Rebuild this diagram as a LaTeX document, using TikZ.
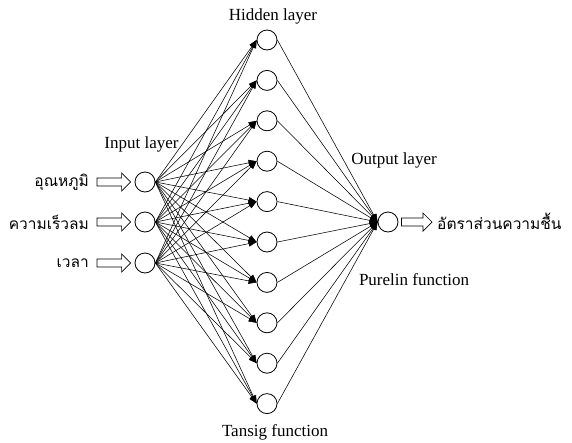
\documentclass[tikz,border=0pt]{standalone}
\usepackage{fontspec}
\setmainfont{Liberation Serif}
\newfontfamily\thaifont[Script=Thai]{Loma}
\usetikzlibrary{arrows.meta,calc}
\newcommand\blockarrow[2]{%
  \draw[blockarr] ($(#1)+(0,-4)$) -- ($(#2)+(-9,-4)$) -- ($(#2)+(-9,-9)$) -- (#2)
    -- ($(#2)+(-9,9)$) -- ($(#2)+(-9,4)$) -- ($(#1)+(0,4)$) -- cycle;}
\begin{document}
\begin{tikzpicture}[x=1pt,y=-1pt,
  neuron/.style={circle,draw,minimum size=20pt,inner sep=0pt,line width=0.8pt},
  conn/.style={line width=0.55pt,-{Triangle[length=8pt,width=6pt]}},
  blockarr/.style={line width=0.7pt,fill=white,line join=miter},
  lbl/.style={font=\fontsize{17}{19}\selectfont,inner sep=0pt},
  thai/.style={font=\thaifont\fontsize{15.5}{18}\selectfont,inner sep=0pt}]
\useasboundingbox (0,0) rectangle (572,442);
% nodes
\foreach \i/\y in {1/182,2/222,3/263} \node[neuron] (i\i) at (145,\y) {};
\foreach \j in {1,...,10} \node[neuron] (h\j) at (267,{40+40.4*(\j-1)}) {};
\node[neuron] (o) at (388,222) {};
% connections
\foreach \i in {1,2,3} \foreach \j in {1,...,10} \draw[conn] (i\i.east) -- (h\j.west);
\foreach \j in {1,...,10} \draw[conn] (h\j.east) -- (o.west);
% input labels
\node[thai,anchor=east] (l1) at (89,182) {อุณหภูมิ};
\node[thai,anchor=east] (l2) at (89,222) {ความเร็วลม};
\node[thai,anchor=east] (l3) at (89,263) {เวลา};
\coordinate (a1s) at (97,182); \coordinate (a1e) at ($(i1.west)+(-4,0)$);
\coordinate (a2s) at (97,222); \coordinate (a2e) at ($(i2.west)+(-4,0)$);
\coordinate (a3s) at (97,263); \coordinate (a3e) at ($(i3.west)+(-4,0)$);
\blockarrow{a1s}{a1e}
\blockarrow{a2s}{a2e}
\blockarrow{a3s}{a3e}
% output
\coordinate (aos) at ($(o.east)+(3,0)$); \coordinate (aoe) at (432,222);
\blockarrow{aos}{aoe}
\node[thai,anchor=west] (lo) at (437,221) {อัตราส่วนความชื้น};
% titles
\node[lbl] (th) at (273,16) {Hidden layer};
\node[lbl] (ti) at (141.5,144) {Input layer};
\node[lbl] (to) at (394,160) {Output layer};
\node[lbl] (tp) at (414,280) {Purelin function};
\node[lbl] (tt) at (275,432) {Tansig function};
\end{tikzpicture}
\end{document}
